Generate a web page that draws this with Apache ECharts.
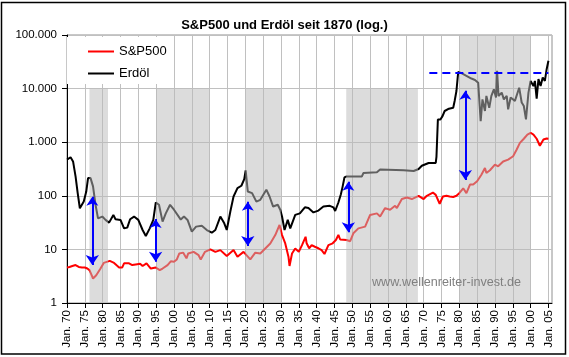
<!DOCTYPE html>
<html>
<head>
<meta charset="utf-8">
<script src="https://cdn.jsdelivr.net/npm/echarts@6/dist/echarts.min.js"></script>
<style>
html,body{margin:0;padding:0;background:#fff;}
#c{width:569px;height:357px;}
</style>
</head>
<body>
<div id="c"></div>
<script>
// ---- data ----
var spYears = [1870.0,1870.7,1871.5,1872.4,1873.3,1874.2,1875.0,1875.7,1876.3,1877.0,1877.3,1878.2,1879.4,1880.3,1880.8,1882.0,1883.2,1884.0,1884.6,1885.5,1886.0,1887.4,1888.3,1889.7,1890.5,1891.2,1892.3,1893.5,1894.9,1896.0,1896.8,1898.2,1899.1,1900.0,1900.8,1901.5,1902.6,1903.5,1904.0,1905.5,1906.9,1907.5,1908.7,1910.2,1911.6,1913.0,1914.8,1916.7,1917.8,1919.5,1921.4,1922.8,1924.2,1925.6,1927.0,1928.4,1929.6,1930.3,1931.2,1932.1,1932.4,1933.1,1934.0,1935.0,1935.9,1936.9,1937.2,1937.9,1938.6,1939.5,1940.5,1941.4,1942.2,1943.3,1944.5,1945.4,1946.1,1946.6,1948.4,1949.4,1950.3,1951.7,1953.6,1955.0,1956.9,1957.8,1959.2,1960.6,1962.0,1962.5,1963.9,1965.3,1966.7,1968.6,1970.0,1970.9,1972.6,1973.4,1974.5,1975.4,1976.4,1977.3,1978.3,1979.2,1980.0,1981.1,1982.0,1983.0,1983.9,1985.0,1986.2,1987.2,1987.6,1988.6,1990.0,1990.9,1992.3,1993.7,1995.1,1996.1,1997.0,1998.1,1999.1,2000.0,2000.8,2001.7,2002.6,2003.6,2004.5,2005.0];
var spValues = [4.6,4.7,4.9,5.1,4.7,4.6,4.6,4.4,4.1,3.2,2.86,3.3,4.4,5.6,6.1,6.1,5.6,5.0,4.6,4.6,5.5,5.5,5.1,5.3,5.4,4.9,5.5,4.4,4.6,4.1,4.4,5.1,6.0,5.9,6.5,8.4,8.7,6.8,8.4,9.0,7.8,6.5,9.0,10.0,9.0,9.7,7.5,9.7,7.3,9.0,6.5,8.7,8.4,10.4,12.9,18.5,28.6,18.5,12.9,7.3,4.9,8.4,10.4,9.0,12.0,17.2,13,10.5,12,11.2,10.5,9.7,8.2,12,13,15,18.6,15.3,15,14.2,20,24.7,26.6,44,47,41,59,55,65,59,87,93,87,100,87,100,115,104,71,97,100,97,95,100,112,138,112,162,162,187,247,330,266,300,383,355,437,473,548,730,970,1160,1390,1500,1390,1160,860,1120,1170,1160];

var oilYears = [1870.0,1871.0,1871.7,1872.4,1873.0,1873.6,1874.7,1875.4,1875.9,1876.6,1877.3,1878.0,1878.7,1879.9,1880.8,1881.8,1883.0,1883.6,1885.0,1886.0,1886.9,1887.7,1888.8,1890.0,1891.2,1892.1,1893.2,1894.2,1894.9,1895.8,1896.8,1897.7,1898.9,1900.0,1901.9,1902.8,1903.8,1905.0,1906.2,1907.8,1909.2,1910.6,1911.6,1913.0,1914.1,1914.8,1915.8,1916.7,1917.8,1918.9,1919.7,1920.1,1920.7,1921.9,1923.1,1924.2,1925.9,1926.8,1927.8,1929.1,1929.8,1930.3,1931.0,1931.9,1932.6,1934.0,1935.3,1936.7,1937.7,1939.1,1940.5,1941.9,1943.7,1944.7,1945.2,1946.1,1946.8,1947.3,1947.8,1948.4,1952.7,1953.1,1956.9,1957.8,1964.4,1967.2,1968.6,1969.5,1971.4,1973.4,1973.6,1974.0,1974.7,1975.3,1975.9,1977.1,1978.3,1978.7,1979.2,1979.7,1980.6,1982.0,1983.4,1984.4,1985.3,1985.8,1986.0,1986.5,1987.2,1987.6,1988.4,1989.0,1989.7,1990.3,1990.6,1991.0,1991.9,1992.5,1993.3,1993.7,1994.4,1995.6,1996.8,1997.5,1998.1,1998.7,1999.4,2000.0,2000.8,2001.2,2001.7,2002.2,2002.8,2003.4,2004.0,2004.5,2005.0];
var oilValues = [473,523,438,230,112,58.6,78,120,214,214,150,68,38,41,35.5,31.6,44,36.5,35.5,24.7,25.5,36.5,41,35.5,23,17.8,24.7,35.5,75,68,33,47,68,55,36,41,35.5,21.5,26.6,27.5,23,20.5,23,41,30.7,23,51,97,139,154,205,299,120,112,78,84,130,97,63,68,55,41,23,35.5,24.7,44,47,61,59,49,53,63,65,61,52,75,107,150,220,230,230,266,275,309,299,290,316,363,410,410,530,2660,2660,3070,3820,4220,4380,5860,9020,20500,19400,17300,15400,14500,12900,13900,2460,6300,3820,7300,4380,7300,9700,6800,21500,7300,8400,6300,7300,4100,6800,5900,10400,5500,4730,2660,8400,13900,11200,13900,6500,15000,11200,16100,13900,23000,33000];

var shadeStarts = [1876.3, 1895.0, 1920.0, 1948.3, 1980.0];
var shadeEnds   = [1881.5, 1910.0, 1930.0, 1968.4, 2000.0];
var shadeTops   = [10000, 10000, 10000, 10000, 100000];

var arrowYears   = [1877.1, 1894.85, 1920.7, 1948.9, 1981.7];
var arrowTops    = [96, 36.9, 77.6, 183, 9140];
var arrowBottoms = [5.1, 5.9, 11.6, 20.9, 197];

var refLevel = 20000, refStart = 1971.6, refEnd = 2005.0;

var xTickYears  = [1870,1875,1880,1885,1890,1895,1900,1905,1910,1915,1920,1925,1930,1935,1940,1945,1950,1955,1960,1965,1970,1975,1980,1985,1990,1995,2000,2005];
var xTickLabels = ['Jan. 70','Jan. 75','Jan. 80','Jan. 85','Jan. 90','Jan. 95','Jan. 00','Jan. 05','Jan. 10','Jan. 15','Jan. 20','Jan. 25','Jan. 30','Jan. 35','Jan. 40','Jan. 45','Jan. 50','Jan. 55','Jan. 60','Jan. 65','Jan. 70','Jan. 75','Jan. 80','Jan. 85','Jan. 90','Jan. 95','Jan. 00','Jan. 05'];
var yTickLabels = ['1','10','100','1.000','10.000','100.000'];

// ---- chart ----
var FONT = 'Liberation Sans, Arial, sans-serif';
function pairs(xs, ys){ var out=[]; for(var i=0;i<xs.length;i++) out.push([xs[i], ys[i]]); return out; }

var shadeData = [];
for (var i=0;i<shadeStarts.length;i++){
  shadeData.push([{xAxis: shadeStarts[i], yAxis: 1}, {xAxis: shadeEnds[i], yAxis: shadeTops[i]}]);
}
var arrowData = [];
for (var j=0;j<arrowYears.length;j++){
  arrowData.push({coords: [[arrowYears[j], arrowTops[j]], [arrowYears[j], arrowBottoms[j]]]});
}

var chart = echarts.init(document.getElementById('c'), null, {renderer:'canvas'});
chart.setOption({
  animation: false,
  backgroundColor: '#fff',
  title: {
    text: 'S&P500 und Erdöl seit 1870 (log.)',
    left: 'center', top: 14,
    textStyle: {fontFamily: FONT, fontSize: 13, fontWeight: 'bold', color: '#000'}
  },
  legend: {
    data: ['S&P500', 'Erdöl'],
    orient: 'vertical',
    left: 67, top: 37,
    itemWidth: 26, itemHeight: 14, itemGap: 9,
    padding: [8, 6, 4, 20],
    backgroundColor: '#fff',
    itemStyle: {opacity: 0},
    textStyle: {fontFamily: FONT, fontSize: 13, color: '#000'}
  },
  grid: {
    left: 67, top: 35, right: 17, bottom: 54,
    show: true, borderColor: '#909090', borderWidth: 1, backgroundColor: '#fff',
    containLabel: false
  },
  xAxis: {
    type: 'value', min: 1870, max: 2006, interval: 5,
    axisLine: {show: true, onZero: false, lineStyle: {color: '#000', width: 1}},
    axisTick: {show: true, length: 5, lineStyle: {color: '#000'}, customValues: xTickYears},
    axisLabel: {
      customValues: xTickYears,
      rotate: 90, margin: 7,
      fontFamily: FONT, fontSize: 11.5, color: '#000',
      formatter: function(v){ var k = xTickYears.indexOf(Math.round(v)); return k >= 0 ? xTickLabels[k] : ''; }
    },
    splitLine: {show: true, lineStyle: {color: '#c0c0c0', width: 1}}
  },
  yAxis: {
    type: 'log', logBase: 10, min: 1, max: 100000,
    axisLine: {show: true, lineStyle: {color: '#000', width: 1}},
    axisTick: {show: true, length: 5, lineStyle: {color: '#000'}},
    axisLabel: {
      margin: 10, fontFamily: FONT, fontSize: 11.5, color: '#000',
      formatter: function(v){ var k = Math.round(Math.log(v)/Math.LN10); return yTickLabels[k] || ''; }
    },
    splitLine: {show: true, lineStyle: {color: '#c0c0c0', width: 1}},
    minorTick: {show: false}, minorSplitLine: {show: false}
  },
  series: [
    {
      name: 'S&P500', type: 'line', data: pairs(spYears, spValues),
      symbol: 'none', color: '#ff0000',
      lineStyle: {color: '#ff0000', width: 2}, z: 2
    },
    {
      name: 'Erdöl', type: 'line', data: pairs(oilYears, oilValues),
      symbol: 'none', color: '#000000',
      lineStyle: {color: '#000000', width: 2}, z: 2
    },
    {
      name: 'shade', type: 'line', data: [], z: 5,
      markArea: {
        silent: true, z: 5,
        itemStyle: {color: 'rgba(187,187,187,0.514)', borderWidth: 0},
        label: {show: false},
        data: shadeData
      }
    },
    {
      name: 'arrows', type: 'lines', coordinateSystem: 'cartesian2d', z: 10,
      symbol: ['arrow', 'arrow'], symbolSize: [9, 10],
      lineStyle: {color: '#0000ff', width: 2, opacity: 1},
      itemStyle: {color: '#0000ff'},
      silent: true,
      data: arrowData
    },
    {
      name: 'level', type: 'lines', coordinateSystem: 'cartesian2d', z: 10,
      symbol: 'none',
      lineStyle: {color: '#0000ff', width: 2, opacity: 1, type: [8, 5]},
      silent: true,
      data: [{coords: [[refStart, refLevel], [refEnd, refLevel]]}]
    }
  ],
  graphic: [
    {
      type: 'rect', silent: true, z: 100,
      shape: {x: 1.5, y: 2.5, width: 564, height: 351.5},
      style: {fill: 'none', stroke: '#000', lineWidth: 1.5}
    },
    {
      type: 'text', left: 372, top: 276, silent: true, z: 100,
      style: {text: 'www.wellenreiter-invest.de', fill: '#808080', font: '12.6px ' + FONT}
    }
  ]
});
</script>
</body>
</html>
